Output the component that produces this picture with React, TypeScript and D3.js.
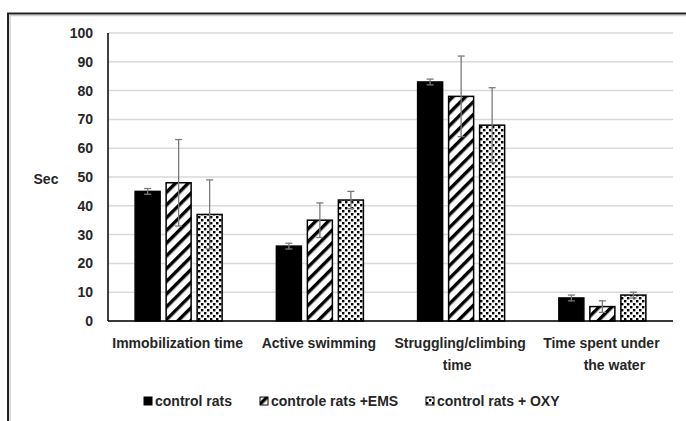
import React from "react";
import * as d3 from "d3";

const categories = ["Immobilization time", "Active swimming", "Struggling/climbing time", "Time spent under the water"];
const categoryLines = [["Immobilization time"], ["Active swimming"], ["Struggling/climbing", "time"], ["Time spent under", "the water"]];
const seriesNames = ["control rats", "controle rats +EMS", "control rats + OXY"];
const controlValues = [45, 26, 83, 8];
const controlErrors = [1, 1, 1, 1];
const emsValues = [48, 35, 78, 5];
const emsErrors = [15, 6, 14, 2];
const oxyValues = [37, 42, 68, 9];
const oxyErrors = [12, 3, 13, 1];
const yTicks = [0, 10, 20, 30, 40, 50, 60, 70, 80, 90, 100];

const W = 686;
const H = 421;
const FONT = "'Liberation Sans', Arial, sans-serif";

export default function App() {
  const x = d3.scaleBand<string>().domain(categories).range([108, 673]).padding(0);
  const bw = x.bandwidth();
  const inner = d3
    .scaleBand<string>()
    .domain(seriesNames)
    .range([bw * 0.192, bw * 0.808])
    .paddingInner(6 / 31)
    .paddingOuter(0);
  const y = d3.scaleLinear().domain([0, 100]).range([321, 33]);

  const series = [
    { name: seriesNames[0], values: controlValues, errors: controlErrors, fill: "#000" },
    { name: seriesNames[1], values: emsValues, errors: emsErrors, fill: "url(#hatch)" },
    { name: seriesNames[2], values: oxyValues, errors: oxyErrors, fill: "url(#dots)" },
  ];

  const legendPos = [144, 260, 426];

  return (
    <div style={{ position: "absolute", left: 0, top: 0 }}>
      <svg width={W} height={H} style={{ display: "block" }}>
        <defs>
          <pattern id="hatch" width="9" height="9" patternUnits="userSpaceOnUse" patternTransform="rotate(45)">
            <rect width="9" height="9" fill="#fff" />
            <rect x="0" y="0" width="3.4" height="9" fill="#000" />
          </pattern>
          <pattern id="dots" width="6" height="6" patternUnits="userSpaceOnUse">
            <rect width="6" height="6" fill="#fff" />
            <rect x="0" y="0" width="2.4" height="2.4" fill="#000" />
            <rect x="3" y="3" width="2.4" height="2.4" fill="#000" />
          </pattern>
        </defs>
        <rect width={W} height={H} fill="#fff" />
        {/* frame */}
        <path d={`M10,${H} V15.5 H${W}`} fill="none" stroke="#cfcfcf" strokeWidth={1.5} />
        <path d={`M8,${H} V13.5 H${W}`} fill="none" stroke="#222" strokeWidth={2} />

        {/* gridlines */}
        {yTicks.map((t) => (
          <line key={t} x1={108} x2={673} y1={y(t)} y2={y(t)} stroke="#d9d9d9" strokeWidth={1.5} />
        ))}
        {yTicks.map((t) => (
          <text
            key={"l" + t}
            x={93}
            y={y(t)}
            textAnchor="end"
            dominantBaseline="central"
            fontFamily={FONT}
            fontWeight="bold"
            fontSize={14}
            fill="#262626"
          >
            {t}
          </text>
        ))}
        <text x={46} y={179} textAnchor="middle" dominantBaseline="central" fontFamily={FONT} fontWeight="bold" fontSize={14} fill="#262626">
          Sec
        </text>

        {/* bars */}
        {series.map((s) =>
          categories.map((c, i) => {
            const bx = (x(c) as number) + (inner(s.name) as number);
            const v = s.values[i];
            return (
              <rect
                key={s.name + c}
                x={bx}
                y={y(v)}
                width={inner.bandwidth()}
                height={y(0) - y(v)}
                fill={s.fill}
                stroke="#000"
                strokeWidth={1.5}
              />
            );
          })
        )}
        {/* error bars */}
        {series.map((s) =>
          categories.map((c, i) => {
            const cx = (x(c) as number) + (inner(s.name) as number) + inner.bandwidth() / 2;
            const hi = y(s.values[i] + s.errors[i]);
            const lo = y(s.values[i] - s.errors[i]);
            return (
              <g key={"e" + s.name + c} stroke="#7a7a7a" strokeWidth={1.3}>
                <line x1={cx} x2={cx} y1={hi} y2={lo} />
                <line x1={cx - 3.5} x2={cx + 3.5} y1={hi} y2={hi} />
                <line x1={cx - 3.5} x2={cx + 3.5} y1={lo} y2={lo} />
              </g>
            );
          })
        )}

        {/* axes */}
        <line x1={108} x2={108} y1={33} y2={321} stroke="#000" strokeWidth={1.5} />
        <line x1={108} x2={673} y1={321} y2={321} stroke="#000" strokeWidth={1.5} />

        {/* category labels */}
        {categories.map((c, i) => {
          const cx = (x(c) as number) + bw / 2;
          return categoryLines[i].map((ln, j) => (
            <text
              key={c + j}
              x={cx + (j === 1 && i === 3 ? 12 : j === 1 ? -4 : -1)}
              y={343 + j * 21.5}
              textAnchor="middle"
              dominantBaseline="central"
              fontFamily={FONT}
              fontWeight="bold"
              fontSize={14}
              fill="#262626"
            >
              {ln}
            </text>
          ));
        })}

        {/* legend */}
        {series.map((s, i) => (
          <g key={"lg" + i}>
            <rect x={legendPos[i]} y={397} width={8} height={8} fill={i === 0 ? "#000" : s.fill} stroke="#000" strokeWidth={1} />
            <text
              x={legendPos[i] + 11}
              y={401}
              dominantBaseline="central"
              fontFamily={FONT}
              fontWeight="bold"
              fontSize={14}
              fill="#262626"
            >
              {s.name}
            </text>
          </g>
        ))}
      </svg>
    </div>
  );
}
